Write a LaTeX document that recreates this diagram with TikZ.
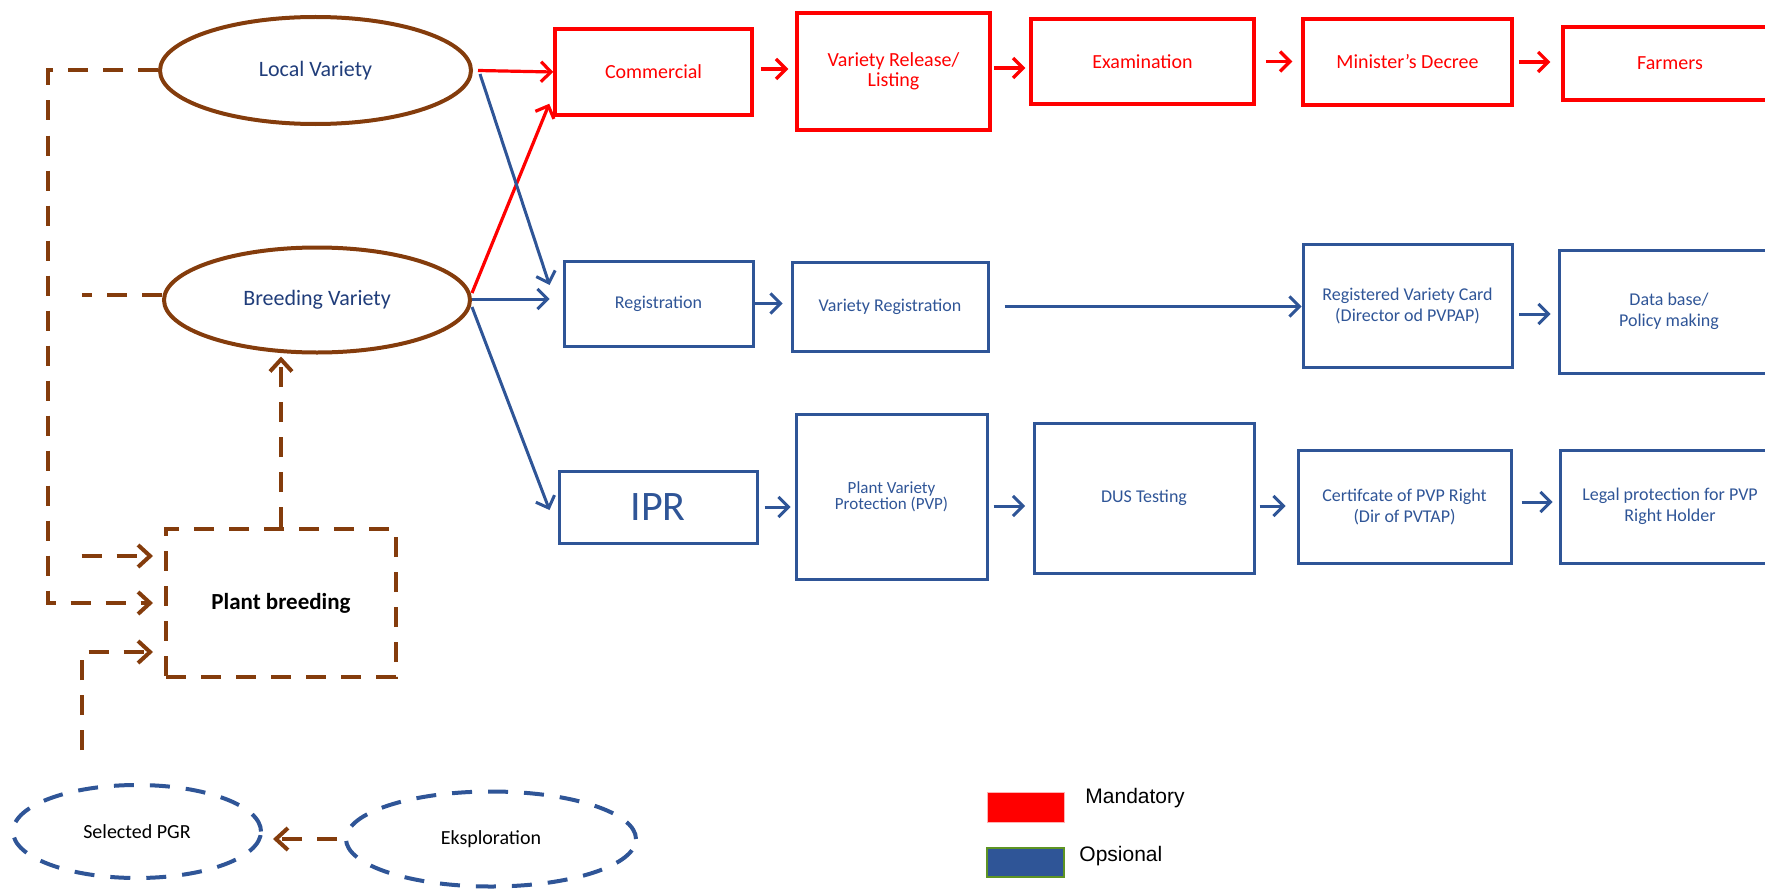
\documentclass[tikz,border=0pt]{standalone}
\usepackage{fontspec}
\setmainfont{Carlito}
\newfontfamily\legendfont{Liberation Sans}
\usetikzlibrary{shapes.geometric,arrows.meta}
\definecolor{pvblue}{HTML}{2F5597}
\definecolor{pvbrown}{HTML}{843C0C}
\definecolor{pvgreen}{HTML}{5E9423}
\definecolor{pvtext}{HTML}{203D7A}

\begin{document}
\begin{tikzpicture}[x=0.5pt,y=-0.5pt,
  variety/.style={ellipse, draw=pvbrown, line width=2pt, inner sep=0pt, text=pvtext, font=\fontsize{11}{13}\selectfont},
  pgrnode/.style={ellipse, draw=pvblue, line width=2pt, dash pattern=on 10pt off 8pt, inner sep=0pt, font=\fontsize{10}{12}\selectfont},
  redbox/.style={rectangle, draw=red, line width=1.75pt, text=red, align=center, inner sep=0pt, font=\fontsize{10}{10}\selectfont},
  bluebox/.style={rectangle, draw=pvblue, line width=1.5pt, text=pvblue, align=center, inner sep=0pt, font=\fontsize{9}{10.5}\selectfont},
  redarrow/.style={draw=red, line width=1.6pt, -{Straight Barb[length=5pt,width=10pt]}},
  bluearrow/.style={draw=pvblue, line width=1.5pt, -{Straight Barb[length=5pt,width=10pt]}},
  brdash/.style={draw=pvbrown, line width=2pt, dash pattern=on 10pt off 7.5pt},
  brarrow/.style={brdash, -{Straight Barb[length=6pt,width=11pt]}},
]
\clip (0,0) rectangle (1765,888);

% varieties and breeding
\node[variety, minimum width=155.5pt, minimum height=53.5pt] (local) at (315.5,70.5) {Local Variety};
\node[variety, minimum width=153pt, minimum height=52.5pt] (breed) at (317,300) {Breeding Variety};
\node[rectangle, brdash, minimum width=115pt, minimum height=74pt, font=\bfseries\fontsize{11.5}{13}\selectfont] (pb) at (281,603) {Plant breeding};
\node[pgrnode, minimum width=124pt, minimum height=46.5pt] (pgr) at (137,831.5) {Selected PGR};
\node[pgrnode, minimum width=145pt, minimum height=47.5pt] (eks) at (491,839) {Eksploration};

% mandatory row
\node[redbox, minimum width=98.5pt, minimum height=43pt] (comm) at (653.5,72) {Commercial};
\node[redbox, minimum width=96.5pt, minimum height=58.5pt] (rel) at (893.5,71.5) {Variety Release/\\Listing};
\node[redbox, minimum width=111.5pt, minimum height=42.5pt] (exam) at (1142.5,61.5) {Examination};
\node[redbox, minimum width=104.5pt, minimum height=43pt] (dec) at (1407.5,62) {Minister’s Decree};
\node[redbox, minimum width=107pt, minimum height=36.5pt] (farm) at (1670,63.5) {Farmers};

% registration row
\node[bluebox, minimum width=94.5pt, minimum height=42.5pt] (reg) at (658.5,303.5) {Registration};
\node[bluebox, minimum width=98pt, minimum height=44.5pt] (vreg) at (890,306.5) {Variety Registration};
\node[bluebox, minimum width=104.5pt, minimum height=61.5pt] (card) at (1407.5,305.5) {Registered Variety Card\\(Director od PVPAP)};
\node[bluebox, minimum width=110pt, minimum height=61.5pt] (db) at (1669,311.5) {Data base/\\Policy making};

% protection row
\node[bluebox, minimum width=99pt, minimum height=36pt, font=\fontsize{21}{24}\selectfont] (ipr) at (658,507) {IPR};
\node[bluebox, minimum width=95.5pt, minimum height=82.5pt, font=\fontsize{8.5}{8}\selectfont] (pvp) at (891.5,496.5) {Plant Variety\\Protection (PVP)};
\node[bluebox, minimum width=110pt, minimum height=75pt] (dus) at (1144,498) {DUS Testing};
\node[bluebox, minimum width=106.5pt, minimum height=56.5pt] (cert) at (1404.5,506.5) {Certifcate of PVP Right\\(Dir of PVTAP)};
\node[bluebox, minimum width=110pt, minimum height=56.5pt] (legal) at (1670,506.5) {Legal protection for PVP\\Right Holder};

% legend
\node[rectangle, fill=red, draw=red!30, line width=0.5pt, minimum width=38.5pt, minimum height=15pt, inner sep=0pt] (mandkey) at (1025.5,807) {};
\node[rectangle, fill=pvblue, draw=pvgreen, line width=1.25pt, minimum width=38.5pt, minimum height=14.5pt, inner sep=0pt] (optkey) at (1025.5,862.5) {};
\node[anchor=west, inner sep=0pt, font=\legendfont\fontsize{10.5}{12}\selectfont] (mandlabel) at (1085,798) {Mandatory};
\node[anchor=west, inner sep=0pt, font=\legendfont\fontsize{10.5}{12}\selectfont] (optlabel) at (1079,856) {Opsional};

\coordinate (breedstub) at (81.5,295);
\coordinate (pbstub) at (81.5,556);
\coordinate (pgrstub) at (81.5,750);

% red connectors
\draw[redarrow] ([xshift=2.5pt]local.east) -- (comm.west);
\draw[redarrow] ([yshift=3.5pt]breed.east) -- ([xshift=-2pt,yshift=6.5pt]comm.south west);
\draw[redarrow, shorten <=3.5pt, shorten >=3.5pt] ([yshift=1.5pt]comm.east) -- ([yshift=1.5pt]comm.east -| rel.west);
\draw[redarrow, shorten <=1pt, shorten >=2pt] ([yshift=1.75pt]rel.east) -- ([yshift=1.75pt]rel.east -| exam.west);
\draw[redarrow, shorten <=5pt, shorten >=4.5pt] (exam.east) -- (exam.east -| dec.west);
\draw[redarrow, shorten <=2.5pt, shorten >=5.5pt] (dec.east) -- (dec.east -| farm.west);

% blue connectors
\draw[bluearrow] ([xshift=3.5pt,yshift=-1.75pt]local.east) -- ([xshift=-6.5pt,yshift=9.25pt]reg.west);
\draw[bluearrow, shorten >=6.5pt] ([yshift=0.5pt]breed.east) -- ([yshift=0.5pt]breed.east -| reg.west);
\draw[bluearrow] ([yshift=-3.5pt]breed.east) -- ([xshift=-4pt,yshift=-1.5pt]ipr.west);
\draw[bluearrow, shorten >=4pt] (reg.east) -- (reg.east -| vreg.west);
\draw[bluearrow, shorten <=7.5pt] (vreg.east) -- (vreg.east -| card.west);
\draw[bluearrow, shorten <=2.75pt, shorten >=3.5pt] ([yshift=-4.25pt]card.east) -- ([yshift=-4.25pt]card.east -| db.west);
\draw[bluearrow, shorten <=3pt, shorten >=2pt] (ipr.east) -- (ipr.east -| pvp.west);
\draw[bluearrow, shorten <=2.5pt, shorten >=3.75pt] ([yshift=-4.75pt]pvp.east) -- ([yshift=-4.75pt]pvp.east -| dus.west);
\draw[bluearrow, shorten <=2pt, shorten >=5.5pt] ([yshift=-4pt]dus.east) -- ([yshift=-4pt]dus.east -| cert.west);
\draw[bluearrow, shorten <=4.5pt, shorten >=3pt] ([yshift=2.25pt]cert.east) -- ([yshift=2.25pt]cert.east -| legal.west);

% brown dashed connectors
\draw[brarrow, shorten >=5.5pt] (local.west) -- ++(-110,0) |- (pb.west);
\draw[brdash] ([yshift=2.5pt]breed.west) -- (breedstub);
\draw[brarrow, shorten >=1pt] (pb.north) -- (pb.north |- breed.south);
\draw[brarrow, shorten >=5.5pt] (pbstub) -- (pbstub -| pb.west);
\draw[brarrow, shorten >=5.5pt] (pgrstub) |- ([yshift=-24.5pt]pb.west);
\draw[brarrow, shorten >=5pt] ([xshift=-3.5pt]eks.west) -- (eks.west -| pgr.east);

\end{tikzpicture}
\end{document}
